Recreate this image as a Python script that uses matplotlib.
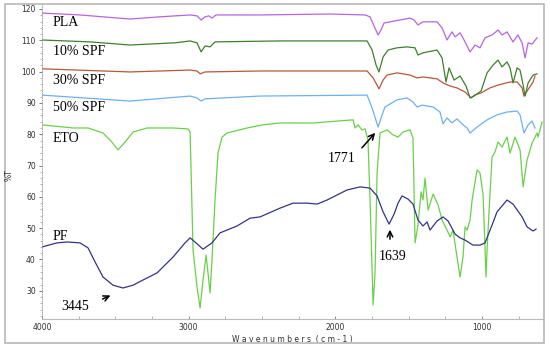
import numpy as np
import matplotlib.pyplot as plt
from matplotlib.patches import Rectangle
from matplotlib.ticker import MultipleLocator

# FTIR spectra, values (wavenumber cm-1, %T)
pla_wn = [4000, 3741, 3400, 3195, 2990, 2943, 2915, 2888, 2861, 2841, 2813, 2513, 2036, 1797, 1763,
          1736, 1708, 1688, 1668, 1627, 1558, 1490, 1463, 1436, 1402, 1306, 1272, 1238, 1204, 1183,
          1149, 1115, 1081, 1047, 1013, 979, 931, 890, 863, 829, 788, 754, 726, 706, 685, 658, 624]
pla_t = [118.7, 118.1, 116.8, 117.5, 118.1, 117.8, 116.5, 117.5, 117.8, 117.1, 118.1, 118.1, 118.4,
         118.1, 117.5, 114.6, 111.7, 113.3, 115.5, 115.9, 116.5, 117.1, 116.5, 114.9, 115.9, 115.9,
         114.0, 110.1, 112.7, 111.1, 112.4, 109.5, 106.3, 108.5, 107.6, 110.8, 111.7, 113.3, 111.7,
         112.7, 109.5, 111.7, 109.2, 104.4, 109.2, 108.8, 110.8]

spf10_wn = [4000, 3673, 3400, 3093, 2990, 2943, 2915, 2888, 2854, 2820, 2377, 1783, 1749, 1722, 1702,
            1674, 1640, 1579, 1511, 1456, 1436, 1402, 1306, 1272, 1245, 1224, 1190, 1149, 1108, 1081,
            1054, 1006, 965, 924, 890, 863, 829, 808, 788, 760, 740, 719, 706, 685, 651, 624]
spf10_t = [110.1, 109.5, 108.5, 109.2, 109.8, 109.2, 106.3, 108.2, 107.9, 109.5, 109.8, 109.8, 106.9,
           102.1, 99.9, 104.7, 106.9, 107.6, 107.9, 107.6, 105.3, 106.0, 106.9, 104.4, 96.7, 101.2,
           97.3, 98.6, 95.4, 91.6, 92.2, 93.8, 99.6, 102.1, 103.7, 101.5, 103.1, 101.2, 96.4, 101.2,
           100.5, 95.7, 92.2, 96.4, 98.9, 99.3]

spf30_wn = [4000, 3400, 2990, 2943, 2922, 2888, 2513, 1783, 1742, 1702, 1674, 1647, 1579, 1490, 1442,
            1402, 1306, 1265, 1217, 1170, 1115, 1074, 1047, 1006, 945, 890, 808, 760, 726, 713, 692,
            651, 638]
spf30_t = [100.9, 99.9, 100.5, 100.2, 99.3, 99.9, 100.2, 100.2, 98.0, 94.5, 97.3, 98.9, 99.6, 98.9,
           98.0, 98.3, 97.7, 96.4, 95.4, 94.8, 93.5, 91.6, 92.6, 93.2, 94.8, 95.7, 96.7, 96.7, 94.8,
           92.2, 93.8, 96.7, 98.6]

spf50_wn = [4000, 3400, 2990, 2943, 2915, 2888, 2513, 1783, 1749, 1708, 1681, 1661, 1579, 1511, 1470,
            1442, 1408, 1333, 1286, 1265, 1238, 1204, 1170, 1129, 1101, 1081, 1033, 965, 897, 829,
            760, 740, 713, 685, 658, 638]
spf50_t = [92.5, 90.6, 92.2, 91.6, 90.6, 91.3, 92.2, 92.5, 88.4, 82.3, 86.2, 88.7, 91.0, 91.6, 90.3,
           88.7, 89.3, 88.7, 87.1, 83.3, 85.2, 83.6, 84.9, 83.0, 82.0, 80.4, 82.3, 84.6, 86.2, 87.1,
           87.4, 86.2, 80.4, 83.0, 84.2, 82.0]

eto_wn = [4000, 3789, 3686, 3584, 3523, 3482, 3434, 3379, 3284, 3106, 3004, 2990, 2970, 2943, 2922,
          2902, 2881, 2868, 2854, 2841, 2820, 2800, 2772, 2738, 2602, 2493, 2377, 2152, 1879, 1865,
          1845, 1818, 1797, 1777, 1763, 1742, 1729, 1715, 1695, 1647, 1606, 1572, 1538, 1490, 1470,
          1456, 1436, 1415, 1402, 1388, 1367, 1333, 1299, 1272, 1238, 1217, 1197, 1170, 1149, 1129,
          1115, 1101, 1081, 1067, 1033, 1013, 992, 972, 965, 951, 931, 911, 890, 863, 829, 808,
          774, 740, 719, 692, 658, 624, 617, 590]
eto_t = [83.0, 82.0, 82.0, 80.4, 77.5, 75.0, 77.5, 80.7, 82.0, 82.0, 81.7, 80.7, 43.0, 31.2, 24.5,
         33.4, 41.4, 35.7, 29.3, 39.8, 59.0, 74.0, 79.1, 80.4, 82.0, 83.0, 83.6, 83.6, 84.6, 82.0,
         83.0, 81.4, 81.7, 78.2, 59.0, 25.5, 35.7, 67.6, 80.4, 81.4, 79.8, 79.1, 80.7, 81.4, 78.8,
         45.3, 51.0, 61.6, 59.0, 66.0, 55.8, 60.9, 57.4, 52.6, 49.4, 47.2, 49.4, 40.8, 34.4, 40.8,
         50.4, 49.4, 52.6, 59.0, 68.6, 67.6, 60.6, 34.4, 43.0, 55.8, 72.7, 74.3, 77.5, 75.9, 79.1,
         74.0, 79.1, 75.0, 63.2, 71.8, 77.2, 80.4, 79.1, 83.9]

pf_wn = [4000, 3898, 3830, 3741, 3686, 3638, 3584, 3516, 3448, 3379, 3284, 3216, 3106, 3025, 2990,
         2957, 2902, 2841, 2786, 2670, 2581, 2513, 2377, 2288, 2193, 2124, 2056, 1920, 1831, 1763,
         1715, 1674, 1633, 1599, 1572, 1545, 1504, 1470, 1436, 1402, 1374, 1354, 1306, 1265, 1231,
         1183, 1149, 1115, 1061, 1013, 979, 931, 897, 829, 788, 726, 692, 651, 631]
pf_t = [44.0, 45.3, 45.6, 45.3, 43.7, 39.2, 34.4, 31.8, 30.9, 31.8, 34.1, 35.7, 40.8, 45.3, 46.9,
        45.6, 43.3, 45.3, 48.5, 50.7, 53.2, 53.6, 56.4, 58.0, 58.0, 57.7, 59.0, 62.2, 63.2, 62.8,
        60.3, 55.2, 51.3, 54.5, 58.0, 60.3, 59.3, 57.7, 52.6, 50.7, 52.0, 49.4, 52.3, 53.6, 52.3,
        48.1, 46.9, 46.2, 44.6, 44.6, 45.3, 51.0, 55.2, 59.0, 57.7, 53.6, 50.4, 49.1, 49.7]

labels = ['PLA', '10% SPF', '30% SPF', '50% SPF', 'ETO', 'PF']
label_t = [115.6, 106.3, 97.3, 88.7, 78.5, 47.2]

fig = plt.figure(figsize=(5.5, 3.5), dpi=100)
ax = fig.add_axes([0.0764, 0.0886, 0.911, 0.90])

ax.plot(eto_wn, eto_t, color='#6ad04a', lw=0.9)
ax.plot(pf_wn, pf_t, color='#33338a', lw=0.9)
ax.plot(spf50_wn, spf50_t, color='#6fb0ee', lw=0.9)
ax.plot(spf30_wn, spf30_t, color='#b8573a', lw=0.9)
ax.plot(spf10_wn, spf10_t, color='#3f7f2f', lw=0.9)
ax.plot(pla_wn, pla_t, color='#b565e0', lw=0.9)

serif = 'Liberation Serif'
for lab, t in zip(labels, label_t):
    ax.text(3925, t, lab, fontsize=10, family=serif, va='center', ha='left')

# annotations
ax.annotate('', xy=(3516, 28.9), xytext=(3604, 27.0),
            arrowprops=dict(arrowstyle='->', color='black', lw=1.1))
ax.text(3775, 25.1, '3445', fontsize=10, family=serif, ha='center', va='center')
ax.annotate('', xy=(1715, 81.1), xytext=(1831, 75.0),
            arrowprops=dict(arrowstyle='->', color='black', lw=1.1))
ax.text(1954, 72.4, '1771', fontsize=10, family=serif, ha='center', va='center')
ax.annotate('', xy=(1627, 50.4), xytext=(1627, 45.6),
            arrowprops=dict(arrowstyle='->', color='black', lw=1.1))
ax.text(1606, 40.8, '1639', fontsize=10, family=serif, ha='center', va='center')

ax.set_xlim(4000, 583)
ax.set_ylim(21.0, 121.6)
ax.xaxis.set_major_locator(MultipleLocator(1000))
ax.xaxis.set_minor_locator(MultipleLocator(250))
ax.yaxis.set_major_locator(MultipleLocator(10))
ax.yaxis.set_minor_locator(MultipleLocator(2))
ax.set_yticks([30, 40, 50, 60, 70, 80, 90, 100, 110, 120])

for s in ['top', 'right']:
    ax.spines[s].set_visible(False)
ax.spines['left'].set_linestyle(':')
ax.spines['left'].set_color('#999999')
ax.spines['left'].set_linewidth(0.6)
ax.spines['bottom'].set_color('#bbbbbb')
ax.spines['bottom'].set_linewidth(0.8)

ax.tick_params(axis='y', which='major', direction='out', length=2.5, width=0.6,
               color='#666666', labelsize=5.5, labelcolor='#303030', pad=2)
ax.tick_params(axis='y', which='minor', direction='out', length=1.2, width=0.5, color='#999999')
ax.tick_params(axis='x', which='major', direction='in', length=2.5, width=0.6,
               color='#777777', labelsize=5.5, labelcolor='#303030', pad=3)
ax.tick_params(axis='x', which='minor', direction='in', length=2.0, width=0.5, color='#999999')

ax.set_xlabel('W a v e n u m b e r s  ( c m - 1 )', fontsize=5.5, color='#303030', labelpad=2)
fig.text(0.016, 0.50, '%T', rotation=90, fontsize=5.5, color='#303030', ha='center', va='center')

# outer frame of the image
fig.patches.append(Rectangle((5 / 550, 7 / 350), 539 / 550, 339 / 350, transform=fig.transFigure,
                             fill=False, edgecolor='#b8b8b8', lw=1.2))

fig.savefig('out.png', dpi=100)
